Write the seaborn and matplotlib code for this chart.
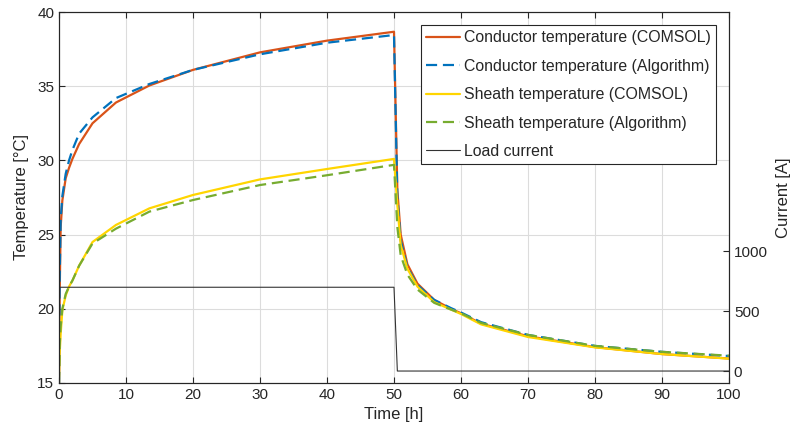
import numpy as np
import pandas as pd
import matplotlib
matplotlib.use("Agg")
import matplotlib.pyplot as plt
import seaborn as sns

# ---- data ----
time_h = [0, 0.1, 0.25, 0.5, 1, 1.5, 2, 3, 5, 8.5, 13.5, 20, 30, 40, 50,
          50.5, 51, 52, 53.5, 56, 58.5, 60, 63, 70, 80, 90, 100]
cond_comsol = [15.0, 21.0, 25.5, 27.3, 28.8, 29.5, 30.1, 31.1, 32.5, 33.9, 35.05, 36.1, 37.28, 38.07, 38.67,
               28.0, 25.0, 23.0, 21.7, 20.6, 20.0, 19.7, 19.0, 18.15, 17.42, 16.95, 16.65]
cond_algo = [15.0, 22.0, 26.0, 27.6, 29.1, 30.0, 30.7, 31.8, 32.9, 34.2, 35.15, 36.1, 37.15, 37.93, 38.45,
             27.5, 24.6, 22.8, 21.6, 20.6, 20.05, 19.75, 19.1, 18.24, 17.5, 17.1, 16.82]
sheath_comsol = [15.4, 17.0, 18.3, 19.9, 20.9, 21.5, 21.9, 22.9, 24.5, 25.65, 26.77, 27.67, 28.72, 29.42, 30.1,
                 27.0, 24.3, 22.7, 21.5, 20.45, 19.95, 19.65, 18.95, 18.1, 17.4, 16.95, 16.64]
sheath_algo = [15.0, 17.5, 18.8, 20.0, 21.0, 21.5, 21.9, 22.9, 24.4, 25.4, 26.55, 27.33, 28.34, 29.0, 29.7,
               25.5, 23.6, 22.3, 21.3, 20.4, 19.95, 19.7, 19.05, 18.24, 17.5, 17.1, 16.84]
current_t = [0, 50, 50.5, 100]
current_a = [700, 700, 0, 0]

labels = ["Conductor temperature (COMSOL)", "Conductor temperature (Algorithm)",
          "Sheath temperature (COMSOL)", "Sheath temperature (Algorithm)", "Load current"]

sns.set_theme(style="white")
plt.rcParams['font.family'] = ['Liberation Sans', 'DejaVu Sans']
plt.rcParams['xtick.direction'] = 'in'
plt.rcParams['ytick.direction'] = 'in'

fig = plt.figure(figsize=(7.95, 4.38), dpi=100)
ax = fig.add_axes([59/795, 55/438, 670/795, 371/438])

spine_c = '#262626'
temp_df = pd.DataFrame({"t": time_h, "cc": cond_comsol, "ca": cond_algo,
                        "sc": sheath_comsol, "sa": sheath_algo})

lw = 1.6
dash = (0, (5, 2.6))
sns.lineplot(data=temp_df, x="t", y="cc", ax=ax, color='#D95319', lw=lw, estimator=None, label=labels[0])
sns.lineplot(data=temp_df, x="t", y="ca", ax=ax, color='#0072BD', lw=lw, linestyle=dash, estimator=None, label=labels[1])
sns.lineplot(data=temp_df, x="t", y="sc", ax=ax, color='#FFD500', lw=lw, estimator=None, label=labels[2])
sns.lineplot(data=temp_df, x="t", y="sa", ax=ax, color='#77AC30', lw=lw, linestyle=dash, estimator=None, label=labels[3])

ax.set_xlim(0, 100)
ax.set_ylim(15, 40)
ax.set_xticks(np.arange(0, 101, 10))
ax.set_yticks(np.arange(15, 41, 5))
ax.grid(True, color='#dcdcdc', lw=0.8)
ax.set_axisbelow(True)
ax.set_xlabel("Time [h]", fontsize=12, color='#262626', labelpad=4)
ax.set_ylabel("Temperature [°C]", fontsize=12, color='#262626', labelpad=6)
ax.tick_params(axis='both', labelsize=11, colors='#262626', length=4, width=0.8,
               top=True, right=False, bottom=True, left=True)
for s in ax.spines.values():
    s.set_color(spine_c)
    s.set_linewidth(0.8)

ax2 = ax.twinx()
cur_df = pd.DataFrame({"t": current_t, "i": current_a})
sns.lineplot(data=cur_df, x="t", y="i", ax=ax2, color='#333333', lw=0.8, estimator=None, label=labels[4])
ax2.set_ylim(-100, 3000)
ax2.set_yticks([0, 500, 1000])
ax2.set_ylabel("Current [A]", fontsize=12, color='#262626', labelpad=6)
ax2.tick_params(axis='y', labelsize=11, colors='#262626', length=4, width=0.8, right=True, left=False)
ax2.grid(False)
for s in ax2.spines.values():
    s.set_color(spine_c)
    s.set_linewidth(0.8)
ax2.set_xlim(0, 100)

h1, l1 = ax.get_legend_handles_labels()
h2, l2 = ax2.get_legend_handles_labels()
if ax.get_legend():
    ax.get_legend().remove()
if ax2.get_legend():
    ax2.get_legend().remove()
leg = ax2.legend(h1 + h2, l1 + l2, loc='upper right', fontsize=11.4, frameon=True,
                 fancybox=False, edgecolor='#262626', framealpha=1, borderaxespad=0.85,
                 handlelength=2.15, handletextpad=0.25, labelspacing=0.85, borderpad=0.3)
leg.get_frame().set_linewidth(0.8)

fig.savefig("out.png", dpi=100)
